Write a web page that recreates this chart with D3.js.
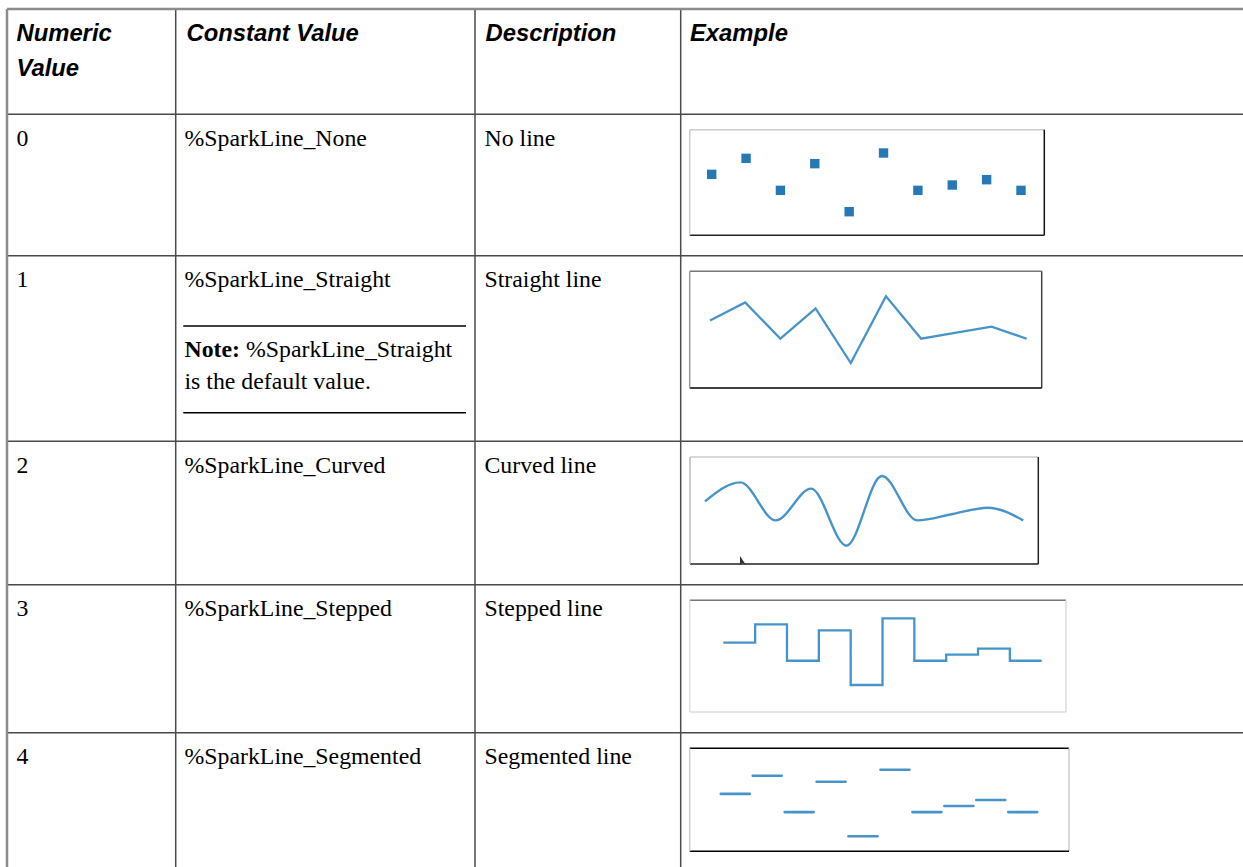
<!DOCTYPE html>
<html>
<head>
<meta charset="utf-8">
<script src="https://cdn.jsdelivr.net/npm/d3@7/dist/d3.min.js"></script>
<style>
  html, body { margin: 0; padding: 0; background: #fff; overflow: hidden; }
  svg { display: block; }
</style>
</head>
<body>
<svg id="chart" width="1243" height="867"></svg>
<script>
// ---- data ----
const headers = ["Numeric|Value", "Constant Value", "Description", "Example"];
const numericValues = ["0", "1", "2", "3", "4"];
const constantValues = ["%SparkLine_None", "%SparkLine_Straight", "%SparkLine_Curved", "%SparkLine_Stepped", "%SparkLine_Segmented"];
const descriptions = ["No line", "Straight line", "Curved line", "Stepped line", "Segmented line"];
const sparkValues = [3, 6, 0, 5, -4, 7, 0, 1, 2, 0];
const noteBold = "Note:";
const noteText = [" %SparkLine_Straight", "is the default value."];

// ---- layout ----
const svg = d3.select("#chart");
const W = 1243, H = 867;
const colX = [7, 175.7, 475, 680.7];
const rowY = [9, 114.3, 255.7, 441.3, 584.7, 732.7];
const textX = [16.5, 184.5, 484.5, 689];
const headX = [16.5, 186.5, 485.5, 690];
const serif = "'Liberation Serif', 'Times New Roman', serif";
const sans = "'Liberation Sans', Arial, sans-serif";
const fs = 23.8;

// grid lines
const grid = svg.append("g");
rowY.slice(1).forEach(y => grid.append("line").attr("x1", colX[0]).attr("x2", W).attr("y1", y).attr("y2", y)
  .attr("stroke", "#4a4a4a").attr("stroke-width", 1.5));
colX.slice(1).forEach(x => grid.append("line").attr("x1", x).attr("x2", x).attr("y1", rowY[0]).attr("y2", H)
  .attr("stroke", "#4a4a4a").attr("stroke-width", 1.5));
grid.append("line").attr("x1", colX[0]).attr("x2", W).attr("y1", rowY[0]).attr("y2", rowY[0])
  .attr("stroke", "#8c8c8c").attr("stroke-width", 2.5);
grid.append("line").attr("x1", colX[0]).attr("x2", colX[0]).attr("y1", rowY[0]).attr("y2", H)
  .attr("stroke", "#8c8c8c").attr("stroke-width", 2.5);

// header text
headers.forEach((h, i) => {
  h.split("|").forEach((line, j) => {
    svg.append("text").attr("x", headX[i]).attr("y", rowY[0] + 31.6 + j * 35.3)
      .attr("font-family", sans).attr("font-weight", "bold").attr("font-style", "italic")
      .attr("font-size", fs).attr("fill", "#000").text(line);
  });
});

// body text
numericValues.forEach((v, r) => {
  const by = rowY[r + 1] + 31.6;
  [v, constantValues[r], descriptions[r]].forEach((t, c) => {
    svg.append("text").attr("x", textX[c]).attr("y", by)
      .attr("font-family", serif).attr("font-size", fs).attr("fill", "#000").text(t);
  });
});

// note in row 1
svg.append("line").attr("x1", 183.3).attr("x2", 466).attr("y1", 326).attr("y2", 326).attr("stroke", "#000").attr("stroke-width", 1.5);
svg.append("line").attr("x1", 183.3).attr("x2", 466).attr("y1", 412.7).attr("y2", 412.7).attr("stroke", "#000").attr("stroke-width", 1.5);
const nt = svg.append("text").attr("x", textX[1]).attr("y", 357.2)
  .attr("font-family", serif).attr("font-size", fs).attr("fill", "#000");
nt.append("tspan").attr("font-weight", "bold").text(noteBold);
nt.append("tspan").text(noteText[0]);
svg.append("text").attr("x", textX[1]).attr("y", 388.8)
  .attr("font-family", serif).attr("font-size", fs).attr("fill", "#000").text(noteText[1]);

// ---- sparkline boxes ----
function box(x0, y0, x1, y1, cols) {
  const g = svg.append("g");
  const sides = [
    [x0, y0, x1, y0, cols[0]], // top
    [x1, y0, x1, y1, cols[1]], // right
    [x0, y1, x1, y1, cols[2]], // bottom
    [x0, y0, x0, y1, cols[3]]  // left
  ];
  sides.forEach(s => g.append("line").attr("x1", s[0]).attr("y1", s[1]).attr("x2", s[2]).attr("y2", s[3])
    .attr("stroke", s[4]).attr("stroke-width", 1.5));
}
const idx = d3.range(sparkValues.length);
const lineColor = "#4794ca";
const dotColor = "#2779b6";

// 0: no line (markers)
box(689.7, 129.7, 1044.3, 235.3, ["#cccccc", "#111", "#222", "#cccccc"]);
{
  const x = d3.scaleLinear().domain([0, 9]).range([711.7, 1021]);
  const y = d3.scaleLinear().domain([-4, 7]).range([211.7, 153]);
  svg.append("g").selectAll("rect").data(idx).join("rect")
    .attr("x", i => x(i) - 4.7).attr("y", i => y(sparkValues[i]) - 4.7)
    .attr("width", 9.4).attr("height", 9.4).attr("fill", dotColor);
}

// 1: straight
box(689.7, 271.3, 1041.7, 388, ["#777", "#444", "#000", "#999"]);
{
  const x = d3.scaleLinear().domain([0, 9]).range([710, 1026.7]);
  const y = d3.scaleLinear().domain([-4, 7]).range([363, 296.3]);
  const line = d3.line().x(i => x(i)).y(i => y(sparkValues[i]));
  svg.append("path").attr("d", line(idx)).attr("fill", "none").attr("stroke", lineColor).attr("stroke-width", 2.3);
}

// 2: curved
box(690, 457, 1038.3, 564, ["#cccccc", "#222", "#222", "#bbbbbb"]);
{
  const x = d3.scaleLinear().domain([0, 9]).range([705, 1023.3]);
  const y = d3.scaleLinear().domain([-4, 7]).range([545.7, 476]);
  const line = d3.line().curve(d3.curveMonotoneX).x(i => x(i)).y(i => y(sparkValues[i]));
  svg.append("path").attr("d", line(idx)).attr("fill", "none").attr("stroke", lineColor).attr("stroke-width", 2.4);
  // mouse cursor artifact
  svg.append("path").attr("d", "M740,556 L740,565 L742.5,563 L746,565 Z").attr("fill", "#333");
}

// 3: stepped
box(689.7, 600.3, 1066, 712, ["#777", "#dddddd", "#dddddd", "#dddddd"]);
{
  const x = d3.scaleLinear().domain([0, 10]).range([723.3, 1041.7]);
  const y = d3.scaleLinear().domain([-4, 7]).range([685, 618.3]);
  const pts = idx.concat([sparkValues.length]);
  const line = d3.line().curve(d3.curveStepAfter).x(i => x(i)).y(i => y(sparkValues[Math.min(i, sparkValues.length - 1)]));
  svg.append("path").attr("d", line(pts)).attr("fill", "none").attr("stroke", lineColor).attr("stroke-width", 2.3);
}

// 4: segmented
box(689.7, 748.3, 1069, 851.3, ["#000", "#cccccc", "#000", "#cccccc"]);
{
  const x = d3.scaleLinear().domain([0, 10]).range([719.3, 1038.7]);
  const y = d3.scaleLinear().domain([-4, 7]).range([836.3, 769.7]);
  svg.append("g").selectAll("line").data(idx).join("line")
    .attr("x1", i => x(i) + 1.5).attr("x2", i => x(i + 1) - 1.5)
    .attr("y1", i => y(sparkValues[i])).attr("y2", i => y(sparkValues[i]))
    .attr("stroke", lineColor).attr("stroke-width", 2.6).attr("stroke-linecap", "round");
}
</script>
</body>
</html>
